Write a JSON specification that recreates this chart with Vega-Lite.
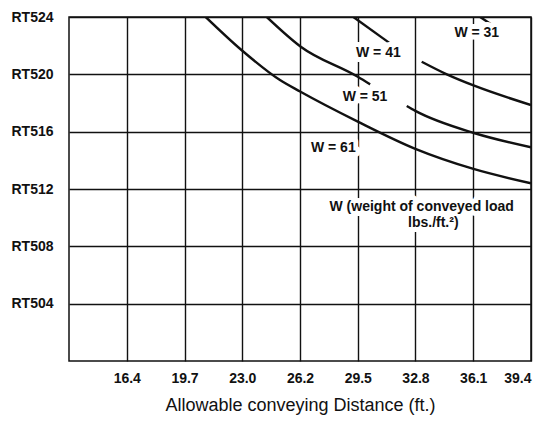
{
  "$schema": "https://vega.github.io/schema/vega-lite/v6.json",
  "width": 462,
  "height": 344,
  "autosize": {"type": "none"},
  "padding": {"left": 69, "top": 17, "right": 22, "bottom": 60},
  "background": "white",
  "config": {
    "view": {"stroke": "#111", "strokeWidth": 1.5},
    "font": "Liberation Sans"
  },
  "datasets": {
    "curves": [
      {"w": "61", "seg": "a", "d": 20.89, "load": 524.0},
      {"w": "61", "seg": "a", "d": 22.92, "load": 521.7},
      {"w": "61", "seg": "a", "d": 25.11, "load": 519.6},
      {"w": "61", "seg": "a", "d": 26.25, "load": 518.8},
      {"w": "61", "seg": "a", "d": 29.53, "load": 516.7},
      {"w": "61", "seg": "a", "d": 32.8, "load": 514.8},
      {"w": "61", "seg": "a", "d": 36.1, "load": 513.4},
      {"w": "61", "seg": "a", "d": 39.37, "load": 512.4},
      {"w": "51", "seg": "a", "d": 24.36, "load": 524.0},
      {"w": "51", "seg": "a", "d": 26.29, "load": 521.93},
      {"w": "51", "seg": "a", "d": 29.53, "load": 519.83},
      {"w": "51", "seg": "a", "d": 30.23, "load": 519.3},
      {"w": "51", "seg": "b", "d": 32.31, "load": 517.79},
      {"w": "51", "seg": "b", "d": 32.8, "load": 517.45},
      {"w": "51", "seg": "b", "d": 36.18, "load": 515.89},
      {"w": "51", "seg": "b", "d": 39.37, "load": 514.91},
      {"w": "41", "seg": "a", "d": 29.28, "load": 524.0},
      {"w": "41", "seg": "a", "d": 31.36, "load": 522.16},
      {"w": "41", "seg": "b", "d": 33.16, "load": 520.88},
      {"w": "41", "seg": "b", "d": 34.59, "load": 520.0},
      {"w": "41", "seg": "b", "d": 36.18, "load": 519.19},
      {"w": "41", "seg": "b", "d": 39.37, "load": 517.86},
      {"w": "31", "seg": "a", "d": 36.48, "load": 524.0},
      {"w": "31", "seg": "a", "d": 37.1, "load": 523.5}
    ],
    "labels": [
      {"text": "W = 31", "d": 36.29, "load": 522.86},
      {"text": "W = 41", "d": 30.7, "load": 521.47},
      {"text": "W = 51", "d": 29.94, "load": 518.44},
      {"text": "W = 61", "d": 28.14, "load": 514.84},
      {"text": "W (weight of conveyed load", "d": 33.16, "load": 510.76},
      {"text": "lbs./ft.²)", "d": 33.82, "load": 509.6}
    ]
  },
  "encoding": {
    "x": {
      "field": "d",
      "type": "quantitative",
      "scale": {"domain": [13.123, 39.37], "nice": false, "zero": false},
      "axis": {
        "values": [16.404, 19.685, 22.966, 26.247, 29.528, 32.808, 36.089, 39.37],
        "format": ".1f",
        "title": "Allowable conveying Distance (ft.)",
        "titleFont": "Liberation Sans",
        "titleFontWeight": "normal",
        "titleFontSize": 18,
        "titleColor": "#111",
        "titlePadding": 11,
        "labelFontSize": 14,
        "labelFontWeight": "bold",
        "labelColor": "#111",
        "labelPadding": 10,
        "ticks": false,
        "domain": false,
        "grid": true,
        "gridColor": "#111",
        "gridWidth": 1.4,
        "gridOpacity": 1
      }
    },
    "y": {
      "field": "load",
      "type": "quantitative",
      "scale": {"domain": [500, 524], "nice": false, "zero": false},
      "axis": {
        "values": [504, 508, 512, 516, 520, 524],
        "labelExpr": "'RT' + datum.value",
        "title": null,
        "labelFontSize": 14,
        "labelFontWeight": "bold",
        "labelColor": "#111",
        "labelPadding": 16,
        "ticks": false,
        "domain": false,
        "grid": true,
        "gridColor": "#111",
        "gridWidth": 1.4,
        "gridOpacity": 1
      }
    }
  },
  "layer": [
    {
      "data": {"name": "curves"},
      "mark": {"type": "line", "color": "#111", "strokeWidth": 2.4, "interpolate": "monotone", "clip": true},
      "encoding": {
        "detail": [{"field": "w"}, {"field": "seg"}],
        "order": {"field": "d", "type": "quantitative"}
      }
    },
    {
      "data": {"name": "labels"},
      "mark": {"type": "text", "font": "Liberation Sans", "fontWeight": "bold", "fontSize": 14, "color": "white", "stroke": "white", "strokeWidth": 10, "strokeJoin": "round"},
      "encoding": {"text": {"field": "text"}}
    },
    {
      "data": {"name": "labels"},
      "mark": {"type": "text", "font": "Liberation Sans", "fontWeight": "bold", "fontSize": 14, "color": "#111"},
      "encoding": {"text": {"field": "text"}}
    }
  ]
}
